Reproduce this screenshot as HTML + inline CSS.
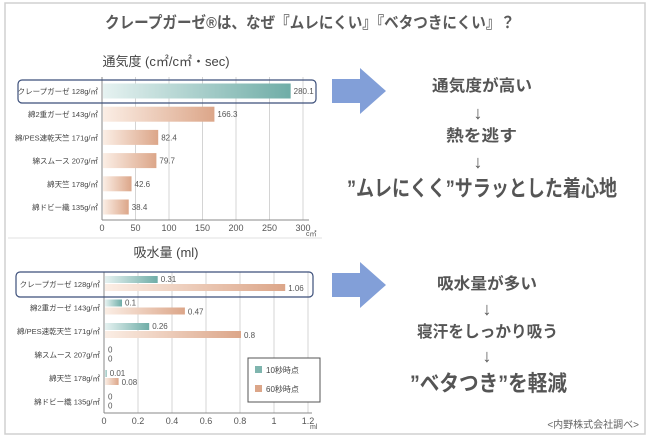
<!DOCTYPE html>
<html><head><meta charset="utf-8">
<style>
html,body{margin:0;padding:0;background:#fff;}
body{width:650px;height:439px;overflow:hidden;font-family:"Liberation Sans","Noto Sans CJK JP",sans-serif;}
svg text{font-family:"Liberation Sans","Noto Sans CJK JP",sans-serif;}
</style></head>
<body>
<svg id="root" width="650" height="439" viewBox="0 0 650 439" xmlns="http://www.w3.org/2000/svg">
<defs>
<linearGradient id="gTeal" x1="0" x2="1" y1="0" y2="0"><stop offset="0" stop-color="#e6f2f1"/><stop offset="1" stop-color="#6fada7"/></linearGradient>
<linearGradient id="gOrange" x1="0" x2="1" y1="0" y2="0"><stop offset="0" stop-color="#fbeee5"/><stop offset="1" stop-color="#dca689"/></linearGradient>
</defs>
<rect x="5" y="3" width="640" height="431" fill="#fff" stroke="#d0d0d0" stroke-width="1.5"/>
<text x="105" y="28" textLength="410" lengthAdjust="spacingAndGlyphs" font-size="16" font-weight="bold" fill="#5a5a5a">クレープガーゼ®は、なぜ『ムレにくい』『ベタつきにくい』？</text>
<line x1="8" y1="238" x2="322" y2="238" stroke="#e0e0e0"/>

<g id="chart1"></g>
<g id="chart2"></g>

<polygon points="332,79 360,79 360,68 386,91 360,114 360,103 332,103" fill="#829fd8"/>
<polygon points="332,273 360,273 360,262 386,285 360,308 360,297 332,297" fill="#829fd8"/>

<g fill="#555" font-weight="bold">
<text x="432" y="91" font-size="16" textLength="100" lengthAdjust="spacingAndGlyphs">通気度が高い</text>
<text x="478" y="119" font-size="18" font-weight="normal" text-anchor="middle">↓</text>
<text x="446" y="141" font-size="16" textLength="71" lengthAdjust="spacingAndGlyphs">熱を逃す</text>
<text x="478" y="168" font-size="18" font-weight="normal" text-anchor="middle">↓</text>
<text x="347" y="196" font-size="22" textLength="270" lengthAdjust="spacingAndGlyphs">”ムレにくく”サラッとした着心地</text>
<text x="437" y="289" font-size="16" textLength="100" lengthAdjust="spacingAndGlyphs">吸水量が多い</text>
<text x="487" y="315" font-size="18" font-weight="normal" text-anchor="middle">↓</text>
<text x="417" y="337" font-size="16" textLength="141" lengthAdjust="spacingAndGlyphs">寝汗をしっかり吸う</text>
<text x="487" y="362" font-size="18" font-weight="normal" text-anchor="middle">↓</text>
<text x="410" y="391" font-size="22" textLength="157" lengthAdjust="spacingAndGlyphs">”ベタつき”を軽減</text>
</g>
<text x="639" y="428" text-anchor="end" font-size="10" fill="#666">&lt;内野株式会社調べ&gt;</text>
</svg>
<script>
const NS="http://www.w3.org/2000/svg";
const cats1=["クレープガーゼ 128g/㎡","綿2重ガーゼ 143g/㎡","綿/PES速乾天竺 171g/㎡","綿スムース 207g/㎡","綿天竺 178g/㎡","綿ドビー織 135g/㎡"];
const airValues=[280.1,166.3,82.4,79.7,42.6,38.4];
const airTicks=[0,50,100,150,200,250,300];
const cats2=["クレープガーゼ 128g/㎡","綿2重ガーゼ 143g/㎡","綿/PES速乾天竺 171g/㎡","綿スムース 207g/㎡","綿天竺 178g/㎡","綿ドビー織 135g/㎡"];
const abs10=[0.31,0.1,0.26,0,0.01,0];
const abs60=[1.06,0.47,0.8,0,0.08,0];
const absTicks=[0,0.2,0.4,0.6,0.8,1,1.2];

function mk(parent,tag,attrs,text){const e=document.createElementNS(NS,tag);for(const k in attrs)e.setAttribute(k,attrs[k]);if(text!==undefined)e.textContent=text;parent.appendChild(e);return e;}

// chart 1
(function(){
const g=document.getElementById('chart1');
const x0=102,x1=303,max=300,top=77,base=220,row0=91,step=23.2;
const xs=v=>x0+(v/max)*(x1-x0);
let t=mk(g,'text',{x:166,y:66,'text-anchor':'middle','font-size':13,fill:'#444'},'通気度 (c㎡/c㎡・sec)');


airTicks.forEach(v=>{
 const l=mk(g,'line',{x1:xs(v),x2:xs(v),y1:top,y2:base,stroke:'#d4d4d4','stroke-width':1});
 
 
 const tl=mk(g,'text',{x:xs(v),y:231,'text-anchor':'middle','font-size':9,fill:'#555'},String(v));
 
 
});
const u=mk(g,'text',{x:306,y:236,'font-size':7,fill:'#555'},'c㎡');


const ax=mk(g,'line',{x1:x0,x2:x0,y1:top,y2:base,stroke:'#888'});


const bx=mk(g,'line',{x1:x0,x2:x1+6,y1:base,y2:base,stroke:'#888'});


const hb=mk(g,'rect',{x:18,y:80,width:298,height:23,rx:4,fill:'none',stroke:'#3c4f7a','stroke-width':1.2});


cats1.forEach((c,i)=>{
 const y=row0+i*step;
 const cl=mk(g,'text',{x:98,y:y+3,'text-anchor':'end','font-size':7.5,fill:'#444'},c);
 
 
 const b=mk(g,'rect',{x:x0+1,y:y-7.5,width:xs(airValues[i])-x0,height:15,fill:i===0?'url(#gTeal)':'url(#gOrange)'});
 
 
 const vl=mk(g,'text',{x:xs(airValues[i])+4,y:y+3,'font-size':8,fill:'#555'},String(airValues[i]));
 
 
});
})();

// chart 2
(function(){
const g=document.getElementById('chart2');
const x0=104,x1=308,max=1.2,top=272,base=413,row0=284,step=23.5;
const xs=v=>x0+(v/max)*(x1-x0);
let t=mk(g,'text',{x:166,y:257,'text-anchor':'middle','font-size':13,fill:'#444'},'吸水量 (ml)');


absTicks.forEach(v=>{
 const l=mk(g,'line',{x1:xs(v),x2:xs(v),y1:top,y2:base,stroke:'#d4d4d4','stroke-width':1});
 
 
 const tl=mk(g,'text',{x:xs(v),y:424,'text-anchor':'middle','font-size':9,fill:'#555'},String(v));
 
 
});
const u=mk(g,'text',{x:310,y:429,'font-size':7,fill:'#555'},'ml');


const ax=mk(g,'line',{x1:x0,x2:x0,y1:top,y2:base,stroke:'#888'});


const bx=mk(g,'line',{x1:x0,x2:x1+4,y1:base,y2:base,stroke:'#888'});


const hb=mk(g,'rect',{x:16,y:272,width:297,height:25,rx:4,fill:'none',stroke:'#3c4f7a','stroke-width':1.2});


cats2.forEach((c,i)=>{
 const y=row0+i*step;
 const cl=mk(g,'text',{x:100,y:y+3,'text-anchor':'end','font-size':7.5,fill:'#444'},c);
 
 
 const b1=mk(g,'rect',{x:x0+1,y:y-8,width:xs(abs10[i])-x0,height:7,fill:'url(#gTeal)'});
 
 
 const b2=mk(g,'rect',{x:x0+1,y:y,width:xs(abs60[i])-x0,height:7,fill:'url(#gOrange)'});
 
 
 const v1=mk(g,'text',{x:xs(abs10[i])+4,y:y-2,'font-size':8,fill:'#555'},String(abs10[i]));
 
 
 const v2=mk(g,'text',{x:xs(abs60[i])+4,y:y+7,'font-size':8,fill:'#555'},String(abs60[i]));
 
 
});
const lg=mk(g,'g',{});


mk(lg,'rect',{x:248,y:358,width:72,height:44,fill:'#fff',stroke:'#555'});
mk(lg,'rect',{x:255,y:366,width:7,height:7,fill:'#7fb5ae'});
const le1=mk(lg,'text',{x:266,y:373,'font-size':8,fill:'#444'},'10秒時点');


mk(lg,'rect',{x:255,y:385,width:7,height:7,fill:'#dca689'});
const le2=mk(lg,'text',{x:266,y:392,'font-size':8,fill:'#444'},'60秒時点');


})();
</script>
</body></html>
